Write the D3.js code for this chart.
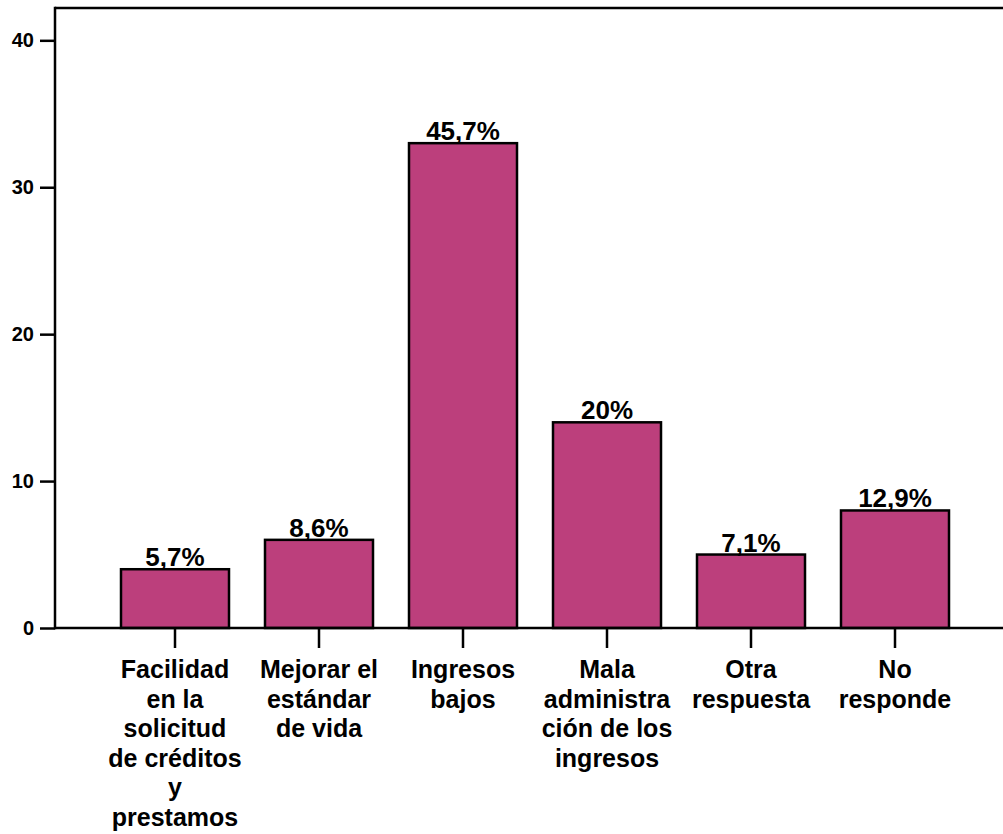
<!DOCTYPE html>
<html>
<head>
<meta charset="utf-8">
<script src="https://cdn.jsdelivr.net/npm/d3@7"></script>
<style>
  body { margin: 0; background: #fff; }
  text { font-family: Arial, "Liberation Sans", sans-serif; font-weight: bold; fill: #000; }
</style>
</head>
<body>
<div id="chart"></div>
<script>
// data
const categories = [
  "Facilidad\nen la\nsolicitud\nde créditos\ny\nprestamos",
  "Mejorar el\nestándar\nde vida",
  "Ingresos\nbajos",
  "Mala\nadministra\nción de los\ningresos",
  "Otra\nrespuesta",
  "No\nresponde"
];
const counts = [4, 6, 33, 14, 5, 8];
const pctLabels = ["5,7%", "8,6%", "45,7%", "20%", "7,1%", "12,9%"];
const yTicks = [0, 10, 20, 30, 40];

const W = 1003, H = 834;
const AXIS_X = 55, BASE_Y = 628, TOP_Y = 8;

const svg = d3.select("#chart").append("svg")
  .attr("width", W)
  .attr("height", H);

const x = d3.scaleBand()
  .domain(categories)
  .range([85, 985])
  .padding(0.25);

const y = d3.scaleLinear()
  .domain([0, 42.2])
  .range([BASE_Y, TOP_Y]);

// top frame line
svg.append("line")
  .attr("x1", AXIS_X).attr("x2", W)
  .attr("y1", TOP_Y).attr("y2", TOP_Y)
  .attr("stroke", "#000").attr("stroke-width", 2.5);

// bars
svg.selectAll("rect.bar")
  .data(counts)
  .enter().append("rect")
  .attr("class", "bar")
  .attr("x", (d, i) => x(categories[i]))
  .attr("y", d => y(d))
  .attr("width", x.bandwidth())
  .attr("height", d => y(0) - y(d))
  .attr("fill", "#bc3f7c")
  .attr("stroke", "#000")
  .attr("stroke-width", 2.5);

// value labels
svg.selectAll("text.val")
  .data(counts)
  .enter().append("text")
  .attr("class", "val")
  .attr("x", (d, i) => x(categories[i]) + x.bandwidth() / 2)
  .attr("y", d => y(d) - 3)
  .attr("text-anchor", "middle")
  .style("font-size", "26px")
  .text((d, i) => pctLabels[i]);

// y axis
const yAxis = svg.append("g")
  .attr("transform", "translate(" + AXIS_X + ",0)")
  .call(d3.axisLeft(y).tickValues(yTicks).tickSize(15).tickPadding(6).tickSizeOuter(0));
yAxis.select(".domain").remove();
yAxis.selectAll("line").attr("stroke", "#000").attr("stroke-width", 2.5);
yAxis.selectAll("text").style("font-size", "20px").attr("fill", "#000");
svg.append("line")
  .attr("x1", AXIS_X).attr("x2", AXIS_X)
  .attr("y1", TOP_Y - 1.25).attr("y2", BASE_Y + 1.25)
  .attr("stroke", "#000").attr("stroke-width", 2.5);

// x axis
const xAxis = svg.append("g")
  .attr("transform", "translate(0," + BASE_Y + ")")
  .call(d3.axisBottom(x).tickSize(20).tickFormat(""));
xAxis.select(".domain").remove();
xAxis.selectAll("line").attr("stroke", "#000").attr("stroke-width", 2.5);
svg.append("line")
  .attr("x1", AXIS_X).attr("x2", W)
  .attr("y1", BASE_Y).attr("y2", BASE_Y)
  .attr("stroke", "#000").attr("stroke-width", 2.5);

// category labels, wrapped like the original
const labels = svg.selectAll("text.cat")
  .data(categories)
  .enter().append("text")
  .attr("class", "cat")
  .attr("text-anchor", "middle")
  .style("font-size", "25px");
labels.each(function (d) {
  const cx = x(d) + x.bandwidth() / 2;
  d3.select(this).selectAll("tspan")
    .data(d.split("\n"))
    .enter().append("tspan")
    .attr("x", cx)
    .attr("y", (t, j) => 678 + j * 29.5)
    .text(t => t);
});
</script>
</body>
</html>
